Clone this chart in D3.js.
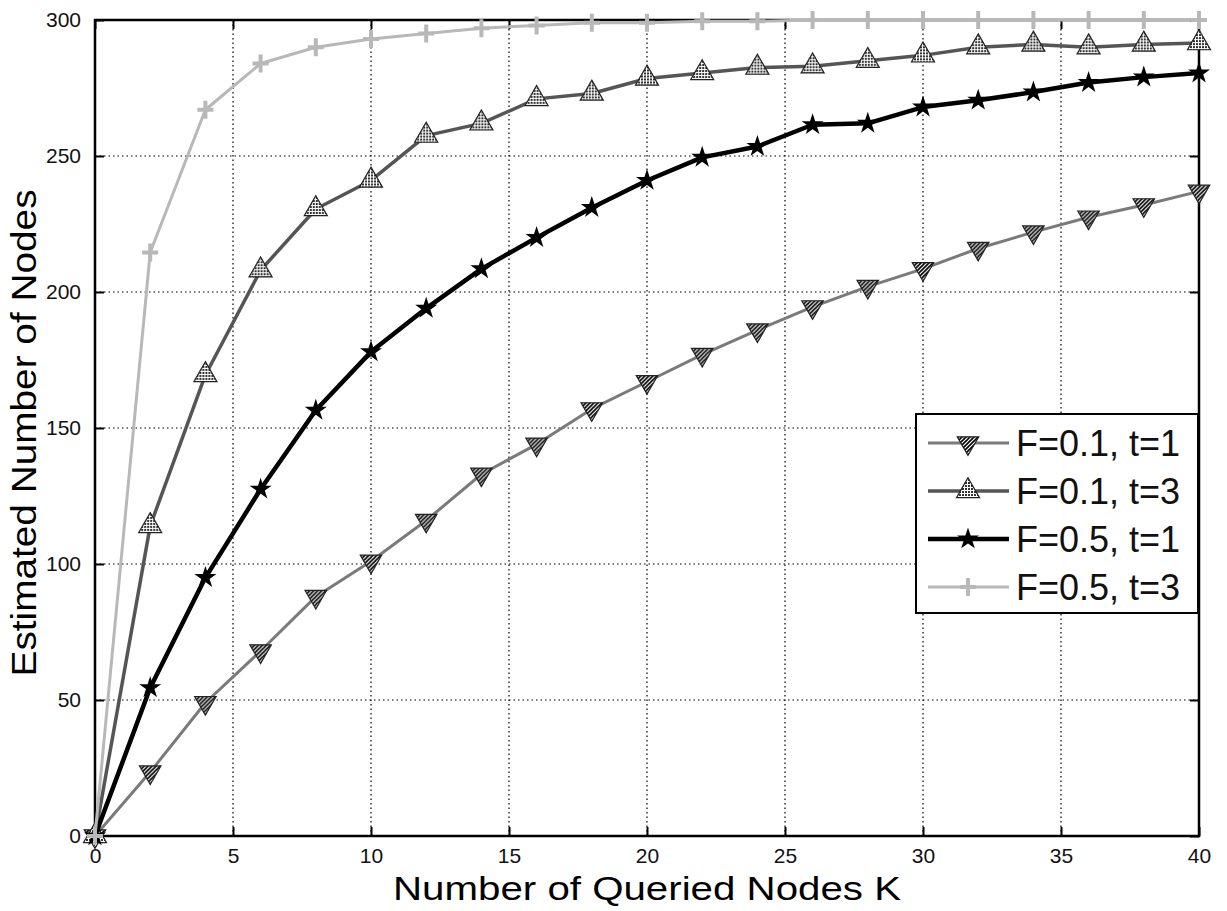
<!DOCTYPE html>
<html>
<head>
<meta charset="utf-8">
<script src="https://cdn.jsdelivr.net/npm/d3@7"></script>
<style>
  body { margin: 0; background: #fff; }
  text { font-family: 'Liberation Sans', Arial, sans-serif; }
</style>
</head>
<body>
<div id="chart"></div>
<script>
'use strict'

// Number of queried nodes K
const kValues = [0, 2, 4, 6, 8, 10, 12, 14, 16, 18, 20, 22, 24, 26, 28, 30, 32, 34, 36, 38, 40]
// Estimated number of nodes per series
const f01t1 = [0, 23.5, 49, 68, 88, 101, 116, 133, 144, 157, 167, 177, 186, 194.5, 202, 208.5, 216, 222, 227.5, 232, 237]
const f01t3 = [0, 114, 169.5, 208, 230.5, 241, 257.5, 262, 271, 273, 278.5, 280.5, 282.5, 283, 285, 287, 290, 291, 290, 291, 291.5]
const f05t1 = [0, 54.5, 95, 127.5, 156.5, 178, 194, 208.5, 220, 231, 241, 249.5, 253.5, 261.5, 262, 268, 270.5, 273.5, 277, 279, 280.5]
const f05t3 = [0, 214.5, 267, 284, 290, 293, 295, 297, 298, 299, 299, 299.5, 299.5, 300, 300, 300, 300, 300, 300, 300, 300]
const seriesNames = ['F=0.1, t=1', 'F=0.1, t=3', 'F=0.5, t=1', 'F=0.5, t=3']
const xTicks = [0, 5, 10, 15, 20, 25, 30, 35, 40]
const yTicks = [0, 50, 100, 150, 200, 250, 300]

const series = [
  { name: seriesNames[0], values: f01t1, color: '#7a7a7a', width: 3, marker: 'down' },
  { name: seriesNames[1], values: f01t3, color: '#555', width: 3.5, marker: 'up' },
  { name: seriesNames[2], values: f05t1, color: '#000', width: 4.5, marker: 'star' },
  { name: seriesNames[3], values: f05t3, color: '#b8b8b8', width: 3, marker: 'plus' }
]

const W = 1227
const H = 911
const margin = { top: 20, right: 28, bottom: 75, left: 95 }
const width = W - margin.left - margin.right
const height = H - margin.top - margin.bottom

const root = d3.select('#chart')
  .append('svg')
  .attr('width', W)
  .attr('height', H)

// textures for the markers
const defs = root.append('defs')
const hatch = defs.append('pattern')
  .attr('id', 'hatch')
  .attr('patternUnits', 'userSpaceOnUse')
  .attr('width', 4)
  .attr('height', 4)
hatch.append('rect').attr('width', 4).attr('height', 4).attr('fill', '#fff')
hatch.append('path').attr('d', 'M-1,5L5,-1M-1,1L1,-1M3,5L5,3').attr('stroke', '#000').attr('stroke-width', 1.6)

const checker = defs.append('pattern')
  .attr('id', 'checker')
  .attr('patternUnits', 'userSpaceOnUse')
  .attr('width', 3)
  .attr('height', 3)
checker.append('rect').attr('width', 3).attr('height', 3).attr('fill', '#fff')
checker.append('rect').attr('width', 2).attr('height', 2).attr('fill', '#333')

const svg = root.append('g')
  .attr('transform', `translate(${margin.left}, ${margin.top})`)

const xScale = d3.scaleLinear().domain([0, 40]).range([0, width])
const yScale = d3.scaleLinear().domain([0, 300]).range([height, 0])

// grid
svg.append('g')
  .selectAll('line')
  .data(xTicks.slice(1, -1))
  .enter()
  .append('line')
  .attr('x1', d => xScale(d))
  .attr('x2', d => xScale(d))
  .attr('y1', 0)
  .attr('y2', height)
  .attr('stroke', '#000')
  .attr('stroke-width', 1.2)
  .attr('stroke-dasharray', '1.5,3')

svg.append('g')
  .selectAll('line')
  .data(yTicks.slice(1, -1))
  .enter()
  .append('line')
  .attr('x1', 0)
  .attr('x2', width)
  .attr('y1', d => yScale(d))
  .attr('y2', d => yScale(d))
  .attr('stroke', '#000')
  .attr('stroke-width', 1.2)
  .attr('stroke-dasharray', '1.5,3')

// axes, ticks pointing inward like matlab
const xAxis = svg.append('g')
  .attr('transform', `translate(0, ${height})`)
  .call(d3.axisBottom(xScale).tickValues(xTicks).tickSizeInner(-9).tickSizeOuter(0).tickPadding(12))
const xAxisTop = svg.append('g')
  .call(d3.axisTop(xScale).tickValues(xTicks).tickSizeInner(-9).tickSizeOuter(0).tickFormat(''))
const yAxis = svg.append('g')
  .call(d3.axisLeft(yScale).tickValues(yTicks).tickSizeInner(-9).tickSizeOuter(0).tickPadding(14))
const yAxisRight = svg.append('g')
  .attr('transform', `translate(${width}, 0)`)
  .call(d3.axisRight(yScale).tickValues(yTicks).tickSizeInner(-9).tickSizeOuter(0).tickFormat(''))

for (const ax of [xAxis, xAxisTop, yAxis, yAxisRight]) {
  ax.select('.domain').remove()
  ax.selectAll('.tick line').attr('stroke', '#000').attr('stroke-width', 2)
  ax.selectAll('text').attr('font-size', 21).attr('fill', '#111').style('font-family', "'Liberation Sans', Arial, sans-serif")
}

svg.append('rect')
  .attr('width', width)
  .attr('height', height)
  .attr('fill', 'none')
  .attr('stroke', '#000')
  .attr('stroke-width', 2.5)

// markers
function drawMarker (g, type, color) {
  if (type === 'down') {
    g.append('path')
      .attr('d', d3.symbol(d3.symbolTriangle, 200)())
      .attr('transform', 'rotate(180)')
      .attr('fill', 'url(#hatch)')
      .attr('stroke', '#222')
      .attr('stroke-width', 1.2)
  } else if (type === 'up') {
    g.append('path')
      .attr('d', d3.symbol(d3.symbolTriangle, 230)())
      .attr('fill', 'url(#checker)')
      .attr('stroke', '#222')
      .attr('stroke-width', 1.2)
  } else if (type === 'star') {
    g.append('path')
      .attr('d', d3.symbol(d3.symbolStar, 150)())
      .attr('fill', '#000')
  } else {
    g.append('path')
      .attr('d', 'M-8,0H8M0,-9V9')
      .attr('stroke', color)
      .attr('stroke-width', 4)
  }
}

const line = d3.line()
  .x(d => xScale(d[0]))
  .y(d => yScale(d[1]))

series.forEach(s => {
  const pts = kValues.map((k, i) => [k, s.values[i]])
  svg.append('path')
    .datum(pts)
    .attr('d', line)
    .attr('fill', 'none')
    .attr('stroke', s.color)
    .attr('stroke-width', s.width)
    .attr('stroke-linejoin', 'round')

  svg.append('g')
    .selectAll('g')
    .data(pts)
    .enter()
    .append('g')
    .attr('transform', d => `translate(${xScale(d[0])}, ${yScale(d[1])})`)
    .each(function () { drawMarker(d3.select(this), s.marker, s.color) })
})

// axis titles
svg.append('text')
  .attr('x', width / 2)
  .attr('y', height + 64)
  .attr('text-anchor', 'middle')
  .attr('font-size', 33)
  .attr('textLength', 508)
  .attr('lengthAdjust', 'spacingAndGlyphs')
  .text('Number of Queried Nodes K')

svg.append('text')
  .attr('transform', `translate(${-59}, ${433 - margin.top}) rotate(-90)`)
  .attr('text-anchor', 'middle')
  .attr('font-size', 35)
  .attr('textLength', 487)
  .attr('lengthAdjust', 'spacingAndGlyphs')
  .text('Estimated Number of Nodes')

// legend
const legend = svg.append('g')
  .attr('transform', `translate(${916 - margin.left}, ${414 - margin.top})`)
legend.append('rect')
  .attr('width', 282)
  .attr('height', 199)
  .attr('fill', '#fff')
  .attr('stroke', '#000')
  .attr('stroke-width', 2)

series.forEach((s, i) => {
  const row = legend.append('g')
    .attr('transform', `translate(0, ${29 + i * 48})`)
  row.append('line')
    .attr('x1', 12)
    .attr('x2', 93)
    .attr('stroke', s.color)
    .attr('stroke-width', s.width)
  drawMarker(row.append('g').attr('transform', 'translate(52, 0)'), s.marker, s.color)
  row.append('text')
    .attr('x', 100)
    .attr('y', 13)
    .attr('font-size', 36)
    .attr('fill', '#111')
    .text(s.name)
})
</script>
</body>
</html>
